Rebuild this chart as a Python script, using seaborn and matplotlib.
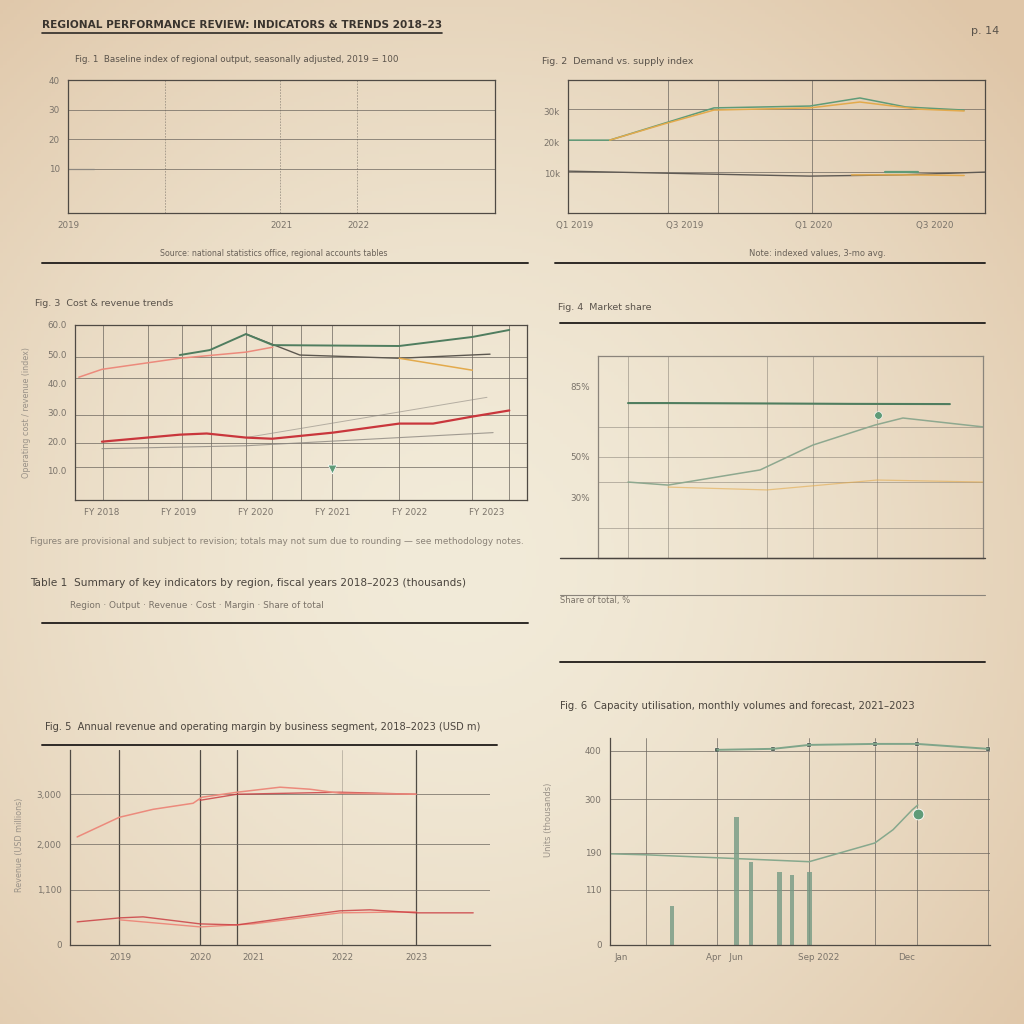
import numpy as np
import matplotlib
matplotlib.use("Agg")
import matplotlib.pyplot as plt
import seaborn as sns
from matplotlib.lines import Line2D

sns.set_theme(style="white")
plt.rcParams['font.family'] = ['DejaVu Sans']

# ---------------- data ----------------
# Panel 1: empty grid with a short baseline stub
p1_x = [0, 6]
p1_y = [10, 10]
p1_xticks = [0, 50, 68]
p1_xlabels = ["2019", "2021", "2022"]
p1_yticks = [10, 20, 30, 40]
p1_ylabels = ["10", "20", "30", "40"]

# Panel 2: demand / supply index
p2_xa = [0, 10, 35, 58, 70, 81, 95]
p2_ya = [20.6, 20.6, 31.0, 31.6, 34.2, 31.3, 30.3]
p2_xb = [10, 23, 35, 58, 70, 84, 95]
p2_yb = [20.6, 25.8, 30.3, 31.0, 32.9, 30.6, 30.0]
p2_xc = [0, 32, 58, 80, 100]
p2_yc = [10.6, 9.7, 9.0, 9.4, 10.3]
p2_xd = [68, 80, 95]
p2_yd = [9.4, 9.4, 9.2]
p2_xe = [76, 84]
p2_ye = [10.4, 10.4]
p2_xticks = [1.7, 28, 59, 88]
p2_xlabels = ["Q1 2019", "Q3 2019", "Q1 2020", "Q3 2020"]
p2_yticks = [10, 20, 30]
p2_ylabels = ["10k", "20k", "30k"]

# Panel 3: cost & revenue trends
p3_x_g1 = [2.01, 2.40, 2.87, 3.22, 4.86, 5.81, 6.29]
p3_y_g1 = [49.7, 51.4, 56.9, 53.1, 52.8, 55.9, 58.3]
p3_x_g2 = [2.87, 3.57, 4.86, 6.04]
p3_y_g2 = [56.9, 49.7, 48.6, 50.0]
p3_x_s = [0.70, 1.00, 2.01, 2.87, 3.22]
p3_y_s = [42.1, 44.8, 48.6, 50.7, 52.4]
p3_x_o = [4.86, 5.81]
p3_y_o = [48.6, 44.5]
p3_x_r = [1.00, 2.01, 2.36, 2.87, 3.21, 4.00, 4.86, 5.30, 5.81, 6.29]
p3_y_r = [20.0, 22.4, 22.8, 21.4, 21.0, 23.1, 26.2, 26.2, 28.6, 30.7]
p3_x_k1 = [1.00, 2.87, 6.08]
p3_y_k1 = [17.6, 18.6, 23.1]
p3_x_k2 = [2.87, 6.00]
p3_y_k2 = [21.4, 35.2]
p3_mark_x = [3.99]
p3_mark_y = [10.5]
p3_xticks = [1, 2, 3, 4, 5, 6]
p3_xlabels = ["FY 2018", "FY 2019", "FY 2020", "FY 2021", "FY 2022", "FY 2023"]
p3_yticks = [10, 20, 30, 40, 50, 60]
p3_ylabels = ["10.0", "20.0", "30.0", "40.0", "50.0", "60.0"]

# Panel 4: market share
p4_x_top = [7.8, 18.2, 43.9, 65.5, 91.4]
p4_y_top = [76.7, 76.7, 76.5, 76.3, 76.2]
p4_x_g = [7.8, 18.2, 42.1, 55.8, 71.9, 79.2, 100]
p4_y_g = [37.6, 36.1, 43.6, 55.9, 65.8, 69.3, 64.9]
p4_x_o = [18.2, 43.9, 72.5, 100]
p4_y_o = [35.1, 33.7, 38.6, 37.6]
p4_mark_x = [72.7]
p4_mark_y = [70.8]
p4_yticks = [30, 50, 85]
p4_ylabels = ["30%", "50%", "85%"]

# Panel 5: revenue and margin
p5_x_u1 = [1.7, 11.7, 19.8, 29.3, 31.4, 39.8, 50.0, 57.1, 64.3, 82.4]
p5_y_u1 = [21.5, 25.4, 27.0, 28.2, 29.4, 30.4, 31.4, 31.0, 30.2, 30.0]
p5_x_u2 = [31.0, 39.8, 64.3, 82.4]
p5_y_u2 = [28.8, 30.0, 30.4, 30.0]
p5_x_l1 = [1.7, 11.9, 17.4, 31.0, 39.8, 51.7, 64.3, 71.4, 82.4, 96.0]
p5_y_l1 = [4.6, 5.4, 5.6, 4.2, 4.0, 5.4, 6.8, 7.0, 6.4, 6.4]
p5_x_l2 = [11.9, 31.0, 43.6, 64.3, 82.4]
p5_y_l2 = [5.0, 3.6, 4.2, 6.4, 6.6]
p5_xticks = [11.9, 31.0, 43.6, 64.8, 82.4]
p5_xlabels = ["2019", "2020", "2021", "2022", "2023"]
p5_yticks = [0, 11, 20, 30]
p5_ylabels = ["0", "1,100", "2,000", "3,000"]

# Panel 6: utilisation, volumes and forecast
p6_x_top = [28.2, 42.9, 52.4, 69.7, 80.8, 99.5]
p6_y_top = [39.6, 39.8, 40.6, 40.8, 40.8, 39.8]
p6_x_mid = [0, 9.5, 28.2, 52.4, 69.7, 74.5, 79.5, 81.0]
p6_y_mid = [18.5, 18.3, 17.7, 16.9, 20.7, 23.4, 27.4, 28.4]
p6_bar_x = [16.3, 33.2, 37.1, 44.7, 47.9, 52.6]
p6_bar_h = [7.9, 26.0, 16.9, 14.8, 14.2, 14.8]
p6_mark_x = [81.0]
p6_mark_y = [26.6]
p6_xticks = [3, 30, 55, 78]
p6_xlabels = ["Jan", "Apr   Jun", "Sep 2022", "Dec"]
p6_yticks = [0, 11.2, 18.7, 29.6, 39.4]
p6_ylabels = ["0", "110", "190", "300", "400"]

# ---------------- styling ----------------
W = H = 1024
INK = "#4f4a44"
GRID = "#6e6860"
TICK = "#7a736a"
RED = "#c9363c"
SALMON = "#ec8a7c"
GREEN = "#5f9b78"
DKGREEN = "#4f7d5f"
ORANGE = "#e3aa4c"
GRAY = "#8c8780"

fig = plt.figure(figsize=(10.24, 10.24), dpi=100)

# paper background (radial gradient)
bg = fig.add_axes([0, 0, 1, 1], zorder=-10)
yy, xx = np.mgrid[0:1:300j, 0:1:300j]
r = np.sqrt(((xx - 0.45) / 1.0) ** 2 + ((yy - 0.55) / 1.05) ** 2)
t = np.clip(r / 0.72, 0, 1) ** 1.6
center = np.array([242, 235, 217]) / 255
edge = np.array([223, 198, 168]) / 255
img = center[None, None, :] * (1 - t[..., None]) + edge[None, None, :] * t[..., None]
bg.imshow(img, aspect="auto", extent=[0, 1, 0, 1], origin="upper")
bg.set_axis_off()


def rect(x0, y0, x1, y1):
    return [x0 / W, 1 - y1 / H, (x1 - x0) / W, (y1 - y0) / H]


def ftext(px, py, s, size=7, color=INK, weight="normal", ha="left", alpha=1.0, rot=0, va="center"):
    fig.text(px / W, 1 - py / H, s, fontsize=size, color=color, weight=weight,
             ha=ha, va=va, alpha=alpha, rotation=rot)


def rule(x0, x1, py, lw=1.4, color="#2e2a26", alpha=1.0):
    fig.add_artist(Line2D([x0 / W, x1 / W], [1 - py / H, 1 - py / H],
                          transform=fig.transFigure, color=color, lw=lw, alpha=alpha))


def setup(ax, xlim, ylim, xgrid, ygrid, xticks, xlabels, yticks, ylabels,
          spines=("left", "bottom", "top", "right"), spine_color=INK, grid_alpha=0.85):
    ax.set_facecolor("none")
    ax.xaxis.remove_overlapping_locs = False
    ax.yaxis.remove_overlapping_locs = False
    ax.set_xlim(*xlim)
    ax.set_ylim(*ylim)
    ax.set_xticks(xgrid, minor=True)
    ax.set_yticks(ygrid, minor=True)
    ax.set_xticks(xticks)
    ax.set_xticklabels(xlabels)
    ax.set_yticks(yticks)
    ax.set_yticklabels(ylabels)
    ax.grid(True, which="minor", color=GRID, lw=0.6, alpha=grid_alpha)
    ax.grid(False, which="major")
    ax.tick_params(which="both", length=0, labelsize=6.3, labelcolor=TICK, pad=6)
    for s in ["left", "bottom", "top", "right"]:
        ax.spines[s].set_visible(s in spines)
        ax.spines[s].set_color(spine_color)
        ax.spines[s].set_linewidth(0.9)
    ax.set_xlabel("")
    ax.set_ylabel("")


def line(ax, x, y, color, lw=1.0, alpha=1.0):
    sns.lineplot(x=x, y=y, ax=ax, color=color, lw=lw, alpha=alpha,
                 estimator=None, sort=False, legend=False)


# ---------------- top title ----------------
ftext(42, 25, "REGIONAL PERFORMANCE REVIEW: INDICATORS & TRENDS 2018–23",
      size=7.6, weight="bold", color="#3a342e")
rule(42, 442, 33, lw=1.2)
ftext(985, 31, "p. 14", size=8, color="#5a534b", ha="center")

# ---------------- panel 1 ----------------
ax1 = fig.add_axes(rect(68, 80, 495, 213))
line(ax1, p1_x, p1_y, GRAY, lw=0.9)
setup(ax1, (0, 100), (-5, 40), [22.7, 49.6, 67.7], [10, 20, 30],
      p1_xticks, p1_xlabels, p1_yticks, p1_ylabels)
ax1.grid(True, which="minor", axis="x", color=GRID, lw=0.6, alpha=0.6, ls=(0, (2, 1.5)))
ftext(75, 60, "Fig. 1  Baseline index of regional output, seasonally adjusted, 2019 = 100",
      size=6.3, color="#5a534b")
ftext(274, 253, "Source: national statistics office, regional accounts tables",
      size=5.7, color="#6a6259", ha="center")
rule(42, 528, 263)

# ---------------- panel 2 ----------------
ax2 = fig.add_axes(rect(568, 80, 985, 213))
line(ax2, p2_xa, p2_ya, GREEN, lw=1.1)
line(ax2, p2_xb, p2_yb, ORANGE, lw=1.1)
line(ax2, p2_xc, p2_yc, "#5f5a54", lw=1.0)
line(ax2, p2_xd, p2_yd, ORANGE, lw=1.1)
line(ax2, p2_xe, p2_ye, GREEN, lw=1.6)
setup(ax2, (0, 100), (-2.9, 40), [24, 36, 58.5], [10.3, 20.6, 30.6],
      p2_xticks, p2_xlabels, p2_yticks, p2_ylabels)
ftext(542, 61, "Fig. 2  Demand vs. supply index", size=6.8, color="#5a534b")
ftext(817, 253, "Note: indexed values, 3-mo avg.", size=6.0, color="#6a6259", ha="center")
rule(555, 985, 263)

# ---------------- panel 3 ----------------
ax3 = fig.add_axes(rect(75, 325, 527, 500))
line(ax3, p3_x_k1, p3_y_k1, GRAY, lw=0.8, alpha=0.8)
line(ax3, p3_x_k2, p3_y_k2, GRAY, lw=0.7, alpha=0.6)
line(ax3, p3_x_s, p3_y_s, SALMON, lw=1.1)
line(ax3, p3_x_g2, p3_y_g2, "#5c574f", lw=1.0)
line(ax3, p3_x_o, p3_y_o, ORANGE, lw=1.1)
line(ax3, p3_x_g1, p3_y_g1, DKGREEN, lw=1.4)
line(ax3, p3_x_r, p3_y_r, RED, lw=1.6)
sns.scatterplot(x=p3_mark_x, y=p3_mark_y, ax=ax3, marker="v", s=40, color=GREEN, legend=False)
setup(ax3, (0.65, 6.52), (0, 60),
      [1.01, 1.6, 2.04, 2.42, 2.87, 3.21, 3.58, 3.99, 4.86, 5.81, 6.29],
      [11.4, 19.6, 29, 42, 49], p3_xticks, p3_xlabels, p3_yticks, p3_ylabels)
ftext(35, 303, "Fig. 3  Cost & revenue trends", size=6.8, color="#5a534b")
ftext(27, 412, "Operating cost / revenue (index)", size=5.8, color="#9a9288", rot=90, ha="center")
ftext(30, 541, "Figures are provisional and subject to revision; totals may not sum due to rounding "
               "— see methodology notes.", size=6.4, color="#8a8277")
ftext(30, 583, "Table 1  Summary of key indicators by region, fiscal years 2018–2023 (thousands)",
      size=7.6, color="#4a443d")
ftext(70, 605, "Region · Output · Revenue · Cost · Margin · Share of total", size=6.4, color="#7a7268")
rule(42, 528, 623)

# ---------------- panel 4 ----------------
ax4 = fig.add_axes(rect(598, 356, 983, 558))
line(ax4, p4_x_o, p4_y_o, ORANGE, lw=0.9, alpha=0.6)
line(ax4, p4_x_g, p4_y_g, "#8ea88f", lw=1.1)
line(ax4, p4_x_top, p4_y_top, DKGREEN, lw=1.5)
sns.scatterplot(x=p4_mark_x, y=p4_mark_y, ax=ax4, marker="o", s=30, color=GREEN, legend=False)
setup(ax4, (0, 100), (0, 100), [7.8, 18.2, 43.9, 55.8, 72.5],
      [14.9, 37.6, 50, 64.9], [], [], p4_yticks, p4_ylabels,
      spine_color="#8a847b", grid_alpha=0.5)
ftext(558, 307, "Fig. 4  Market share", size=6.8, color="#5a534b")
rule(560, 985, 323)
rule(560, 985, 558, lw=1.0, color="#4a4540")
rule(560, 985, 595, lw=0.8, color="#8a847b")
ftext(560, 600, "Share of total, %", size=6, color="#7a7268")
rule(560, 985, 662)

# ---------------- panel 5 ----------------
ax5 = fig.add_axes(rect(70, 750, 490, 945))
line(ax5, p5_x_l2, p5_y_l2, SALMON, lw=1.0)
line(ax5, p5_x_l1, p5_y_l1, RED, lw=1.0, alpha=0.8)
line(ax5, p5_x_u2, p5_y_u2, RED, lw=1.0, alpha=0.8)
line(ax5, p5_x_u1, p5_y_u1, SALMON, lw=1.1)
setup(ax5, (0, 100), (0, 38.8), [11.7, 31, 39.8, 64.8, 82.4], [11, 20, 30],
      p5_xticks, p5_xlabels, p5_yticks, p5_ylabels,
      spines=("left", "bottom"))
ax5.grid(True, which="minor", axis="x", color="#3e3a35", lw=0.9, alpha=0.9)
faint = ax5.xaxis.get_minor_ticks()[3].gridline
faint.set_alpha(0.3)
faint.set_linewidth(0.6)
ftext(45, 727, "Fig. 5  Annual revenue and operating margin by business segment, 2018–2023 (USD m)",
      size=7.1, color="#4a443d")
ftext(20, 845, "Revenue (USD millions)", size=5.8, color="#9a9288", rot=90, ha="center")
rule(42, 497, 745)

# ---------------- panel 6 ----------------
ax6 = fig.add_axes(rect(610, 738, 990, 945))
sns.barplot(x=p6_bar_x, y=p6_bar_h, ax=ax6, native_scale=True, orient="x",
            width=0.4, color="#6fa083", alpha=0.8, errorbar=None, linewidth=0)
line(ax6, p6_x_mid, p6_y_mid, "#86a88d", lw=1.1)
line(ax6, p6_x_top, p6_y_top, "#7fa58a", lw=1.4)
sns.scatterplot(x=p6_x_top, y=p6_y_top, ax=ax6, marker="s", s=8, color="#3e4a40", legend=False)
sns.scatterplot(x=p6_mark_x, y=p6_mark_y, ax=ax6, marker="o", s=60, color=GREEN, legend=False)
setup(ax6, (0, 100), (0, 42), [9.5, 28.2, 52.4, 69.7, 80.8, 99.5],
      [11.2, 18.7, 29.6, 39.4], p6_xticks, p6_xlabels, p6_yticks, p6_ylabels,
      spines=("left", "bottom"))
ftext(560, 706, "Fig. 6  Capacity utilisation, monthly volumes and forecast, 2021–2023",
      size=7.3, color="#4a443d")
ftext(548, 820, "Units (thousands)", size=6, color="#9a9288", rot=90, ha="center")

fig.savefig("out.png", dpi=100)
